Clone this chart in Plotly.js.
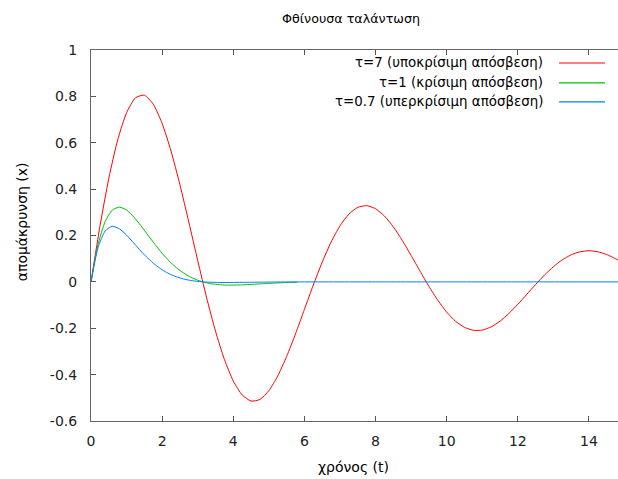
<!DOCTYPE html>
<html>
<head>
<meta charset="utf-8">
<script src="https://cdn.plot.ly/plotly-3.0.1.min.js"></script>
<style>html,body{margin:0;padding:0;background:#fff;overflow:hidden}#chart{width:618px;height:479px}</style>
</head>
<body>
<div id="chart"></div>
<script>
// --- data ---
const seriesNames = ["τ=7 (υποκρίσιμη απόσβεση)", "τ=1 (κρίσιμη απόσβεση)", "τ=0.7 (υπερκρίσιμη απόσβεση)"];
const tRed = [0,0.25,0.5,0.75,1,1.25,1.5,1.75,2,2.25,2.5,2.75,3,3.25,3.5,3.75,4,4.25,4.5,4.75,5,5.25,5.5,5.75,6,6.25,6.5,6.75,7,7.25,7.5,7.75,8,8.25,8.5,8.75,9,9.25,9.5,9.75,10,10.25,10.5,10.75,11,11.25,11.5,11.75,12,12.25,12.5,12.75,13,13.25,13.5,13.75,14,14.25,14.5,14.75,15];
const xRed = [0,0.2387,0.4464,0.6124,0.7295,0.7938,0.8051,0.7663,0.6833,0.5642,0.4188,0.2577,0.0919,-0.0680,-0.2128,-0.3345,-0.4274,-0.4877,-0.5140,-0.5070,-0.4694,-0.4057,-0.3216,-0.2239,-0.1186,-0.0136,0.0850,0.1716,0.2417,0.2922,0.3213,0.3287,0.3155,0.2840,0.2371,0.1790,0.1139,0.0465,-0.0194,-0.0794,-0.1304,-0.1699,-0.1963,-0.2088,-0.2078,-0.1940,-0.1693,-0.1360,-0.0966,-0.0540,-0.0111,0.0295,0.0656,0.0952,0.1169,0.1299,0.1341,0.1298,0.1178,0.0995,0.0763];
const tGreen = [0,0.2,0.4,0.6,0.8,1,1.2,1.4,1.6,1.8,2,2.2,2.4,2.6,2.8,3,3.2,3.4,3.6,3.8,4,4.2,4.4,4.6,4.8,5,5.2,5.4,5.6,5.8];
const xGreen = [0,0.1627,0.2610,0.3099,0.3223,0.3096,0.2807,0.2430,0.2018,0.1610,0.1231,0.0896,0.0613,0.0383,0.0204,0.0070,-0.0024,-0.0085,-0.0121,-0.0137,-0.0139,-0.0131,-0.0117,-0.0100,-0.0082,-0.0065,-0.0049,-0.0035,-0.0023,-0.0014];
const tBlue = [0,0.2,0.4,0.6,0.8,1,1.2,1.4,1.6,1.8,2,2.2,2.4,2.6,2.8,3,3.2,3.6,4,4.5,5,6,8,10,12,14,15];
const xBlue = [0,0.1493,0.2199,0.2396,0.2288,0.2017,0.1679,0.1333,0.1017,0.0744,0.0522,0.0349,0.0219,0.0126,0.0061,0.0019,-0.0006,-0.0026,-0.0025,-0.0016,-0.0008,-0.0001,0,0,0,0,0];
const xTicks = [0,2,4,6,8,10,12,14];
const yTicks = [-0.6,-0.4,-0.2,0,0.2,0.4,0.6,0.8,1];
const yTickText = ["-0.6","-0.4","-0.2","0","0.2","0.4","0.6","0.8","1"];
const colors = ["#ff0000","#00c000","#0080ff"];

const FONT = "DejaVu Sans, sans-serif";
const L = 91, T = 49.5, R = 0, B = 58, W = 618, H = 479;
const pw = W - L - R, ph = H - T - B;
const px = x => (x - L) / pw;
const py = y => (H - B - y) / ph;

const traces = [
  {x: tRed, y: xRed, name: seriesNames[0]},
  {x: tGreen, y: xGreen, name: seriesNames[1]},
  {x: tBlue, y: xBlue, name: seriesNames[2]}
].map((d, i) => Object.assign(d, {type: "scatter", mode: "lines", showlegend: false, hoverinfo: "skip",
  line: {color: colors[i], width: 1, shape: "spline", smoothing: 0.6}}));

const legendY = [62.5, 82.5, 101.5];
const annotations = [
  {text: "Φθίνουσα ταλάντωση", x: px(351), y: py(18), xref: "paper", yref: "paper", showarrow: false, xanchor: "center", yanchor: "middle", font: {size: 12.7, family: FONT, color: "#000"}},
  {text: "χρόνος (t)", x: px(353), y: py(467), xref: "paper", yref: "paper", showarrow: false, xanchor: "center", yanchor: "middle", font: {size: 14, family: FONT, color: "#000"}},
  {text: "απομάκρυνση (x)", x: px(22), y: py(222), xref: "paper", yref: "paper", showarrow: false, textangle: -90, xanchor: "center", yanchor: "middle", font: {size: 14, family: FONT, color: "#000"}}
];
const shapes = [];
seriesNames.forEach((n, i) => {
  annotations.push({text: n, x: px(545), y: py(legendY[i]), xref: "paper", yref: "paper", showarrow: false, xanchor: "right", yanchor: "middle", font: {size: 13.4, family: FONT, color: "#000"}});
  shapes.push({type: "line", xref: "paper", yref: "paper", layer: "above", x0: px(559), x1: px(605), y0: py(legendY[i]), y1: py(legendY[i]), line: {color: colors[i], width: 1.2}});
});

const layout = {
  width: W, height: H,
  margin: {l: L, r: R, t: T, b: B, pad: 0},
  paper_bgcolor: "#fff", plot_bgcolor: "#fff",
  showlegend: false,
  font: {family: FONT, size: 14, color: "#000"},
  xaxis: {range: [0, (W - L) / 35.57], tickvals: xTicks, ticktext: xTicks.map(String), ticks: "inside", ticklen: 5, tickcolor: "#555",
    showline: true, linecolor: "#666", linewidth: 1, mirror: "ticks", showgrid: false, zeroline: false, ticklabelstandoff: 7,
    tickfont: {size: 14, family: FONT, color: "#222"}},
  yaxis: {range: [-0.6, 1], tickvals: yTicks, ticktext: yTickText, ticks: "inside", ticklen: 5, tickcolor: "#555",
    showline: true, linecolor: "#666", linewidth: 1, mirror: false, showgrid: false, zeroline: false, ticklabelstandoff: 10,
    tickfont: {size: 14, family: FONT, color: "#222"}},
  annotations: annotations,
  shapes: shapes
};
Plotly.newPlot("chart", traces, layout, {staticPlot: true, displayModeBar: false});
</script>
</body>
</html>
